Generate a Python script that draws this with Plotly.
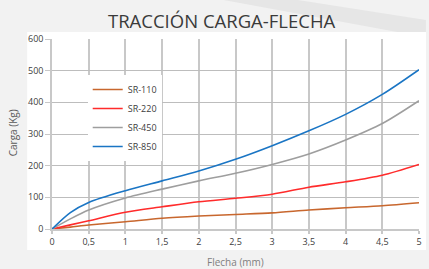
import plotly.graph_objects as go

flecha = [0, 0.25, 0.5, 1, 1.5, 2, 2.5, 3, 3.5, 4, 4.5, 5]
sr110 = [0, 6, 12.6, 23, 34, 41, 46, 51, 60, 67, 73.5, 83]
sr220 = [0, 13, 26, 53, 70, 86, 97, 110, 132, 149, 170, 204]
sr450 = [0, 32, 60, 98, 126, 152, 176, 204, 237, 281, 333, 405]
sr850 = [0, 52, 84, 121, 152, 183, 220, 263, 310, 362, 425, 503]

series_names = ["SR-110", "SR-220", "SR-450", "SR-850"]
series_values = [sr110, sr220, sr450, sr850]
colors = ["#C8672E", "#FF2B2B", "#9E9E9E", "#1A75C4"]

x_ticks = [0, 0.5, 1, 1.5, 2, 2.5, 3, 3.5, 4, 4.5, 5]
y_ticks = [0, 100, 200, 300, 400, 500, 600]

W, H = 429, 269
L, R, T, B = 52, 7, 39, 40
pw, ph = W - L - R, H - T - B


def px(xp):
    return (xp - L) / pw


def py(yp):
    return (H - B - yp) / ph


fig = go.Figure()
for name, vals, col in zip(series_names, series_values, colors):
    fig.add_trace(go.Scatter(x=flecha, y=vals, name=name, mode="lines",
                             line=dict(color=col, width=1.6, shape="spline", smoothing=0.8)))

fig.update_layout(
    width=W, height=H,
    margin=dict(l=L, r=R, t=T, b=B, pad=0),
    paper_bgcolor="#F2F2F2",
    plot_bgcolor="rgba(0,0,0,0)",
    separators=",.",
    font=dict(family="Open Sans", size=9, color="#404040"),
    showlegend=True,
    legend=dict(x=px(88), y=py(75), xanchor="left", yanchor="top",
                bgcolor="white", borderwidth=0,
                font=dict(size=9, color="#404040"),
                tracegroupgap=0, itemwidth=30),
    shapes=[
        dict(type="path", xref="paper", yref="paper", layer="below",
             path=f"M {px(225)},{py(0)} L {px(300)},{py(0)} L {px(429)},{py(20)} L {px(429)},{py(32)} L {px(400)},{py(32)} Z",
             fillcolor="#E6E6E6", line=dict(width=0)),
        dict(type="rect", xref="paper", yref="paper", layer="below",
             x0=px(27), x1=px(429), y0=py(250), y1=py(32),
             fillcolor="white", line=dict(width=0)),
    ],
    annotations=[
        dict(text="TRACCIÓN CARGA-FLECHA", xref="paper", yref="paper",
             x=px(223), y=py(21), xanchor="center", yanchor="middle",
             showarrow=False, font=dict(family="Open Sans", size=18.5, color="#3A3A3A")),
        dict(text="Flecha (mm)", xref="paper", yref="paper",
             x=px(237), y=py(262), xanchor="center", yanchor="middle",
             showarrow=False, font=dict(family="Open Sans", size=10, color="#7F7F7F")),
        dict(text="Carga (Kg)", xref="paper", yref="paper", textangle=-90,
             x=px(13), y=py(133), xanchor="center", yanchor="middle",
             showarrow=False, font=dict(family="Open Sans", size=10, color="#595959")),
    ],
)

fig.update_xaxes(range=[0, 5], tickvals=x_ticks, showgrid=True, gridcolor="#C8C8C8", gridwidth=1.5,
                 zeroline=False, showline=True, linecolor="#C8C8C8", linewidth=1.5,
                 ticks="outside", ticklen=3, tickcolor="#C8C8C8", tickwidth=1.5,
                 tickfont=dict(size=9, color="#404040"))
fig.update_yaxes(range=[0, 600], tickvals=y_ticks, showgrid=True, gridcolor="#BDBDBD", gridwidth=1.3,
                 zeroline=False, showline=True, linecolor="#C8C8C8", linewidth=1.5,
                 ticks="outside", ticklen=5, tickcolor="#C8C8C8", tickwidth=1.3,
                 tickfont=dict(size=9, color="#404040"))

fig.write_html("out.html", config={"displayModeBar": False},
               post_script="document.body.style.margin='0';document.body.style.overflow='hidden';")
